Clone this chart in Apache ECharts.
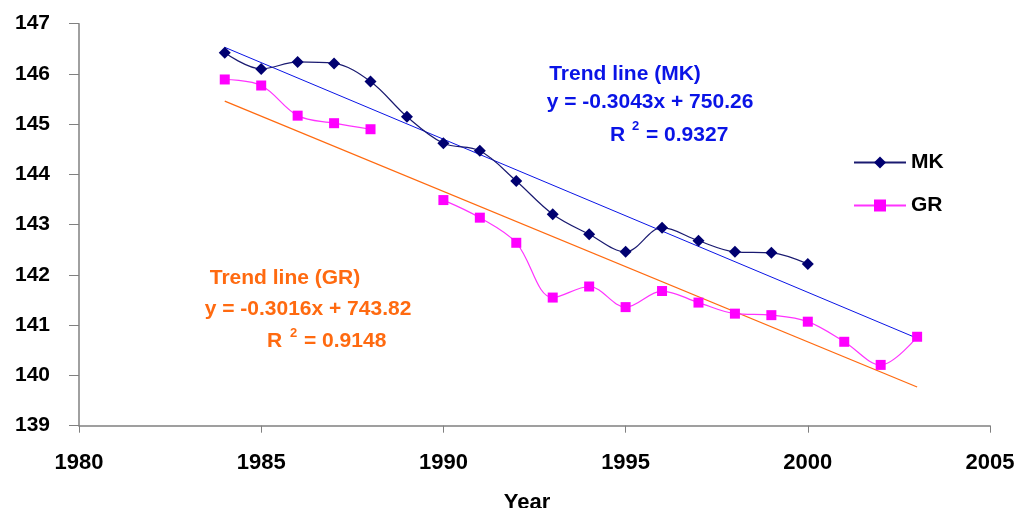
<!DOCTYPE html>
<html>
<head>
<meta charset="utf-8">
<script src="https://cdn.jsdelivr.net/npm/echarts@6/dist/echarts.min.js"></script>
<style>html,body{margin:0;padding:0;background:#fff;overflow:hidden;}#c{width:1016px;height:508px;}</style>
</head>
<body>
<div id="c"></div>
<script>
var years = [1984,1985,1986,1987,1988,1989,1990,1991,1992,1993,1994,1995,1996,1997,1998,1999,2000,2001,2002,2003];
var mk = [146.42,146.10,146.24,146.21,145.85,145.15,144.62,144.47,143.87,143.21,142.81,142.46,142.94,142.68,142.46,142.44,142.22,null,null,null];
var gr = [145.89,145.77,145.17,145.02,144.90,null,143.49,143.14,142.64,141.55,141.77,141.36,141.68,141.45,141.23,141.20,141.07,140.67,140.21,140.77];
var trendMK = [[1984,146.53],[2003,140.74]];
var trendGR = [[1984,145.46],[2003,139.77]];
var xTicks = [1980,1985,1990,1995,2000,2005];
var yTicks = [139,140,141,142,143,144,145,146,147];

function pairs(xs, ys){ var out=[]; for(var i=0;i<xs.length;i++){ out.push([xs[i], ys[i]]); } return out; }

var FONT = 'Liberation Sans, Arial, sans-serif';
var chart = echarts.init(document.getElementById('c'), null, {renderer:'canvas'});
var blue = '#0A14E6', orange = '#FF6A10';
function txt(x,y,s,color,size,align){ return {type:'text', x:x, y:y, style:{text:s, fill:color, font:'bold '+(size||21)+'px '+FONT, textAlign:align||'left', textVerticalAlign:'middle'}}; }
chart.setOption({
  animation:false,
  backgroundColor:'#fff',
  grid:{left:79, right:26, top:23.7, bottom:82.3, containLabel:false, outerBoundsMode:'none'},
  xAxis:{type:'value', min:xTicks[0], max:xTicks[xTicks.length-1], interval:5,
    axisLine:{lineStyle:{color:'#808080', width:1.5}},
    axisTick:{show:true, length:7, lineStyle:{color:'#808080'}},
    axisLabel:{fontFamily:FONT, fontWeight:'bold', fontSize:22, color:'#000', margin:26,
      formatter:function(v){ return String(v); }},
    splitLine:{show:false}},
  yAxis:{type:'value', min:yTicks[0], max:yTicks[yTicks.length-1], interval:1,
    axisLine:{show:true, lineStyle:{color:'#808080', width:1.5}},
    axisTick:{show:true, length:10, lineStyle:{color:'#808080'}},
    axisLabel:{fontFamily:FONT, fontWeight:'bold', fontSize:21, color:'#000', margin:29},
    splitLine:{show:false}},
  legend:{data:['MK','GR'], orient:'vertical', left:848, top:147, itemWidth:52, itemHeight:15, itemGap:22,
    textStyle:{fontFamily:FONT, fontWeight:'bold', fontSize:21, color:'#000', padding:[0,0,0,0]}},
  series:[
    {name:'TrendMK', type:'line', data:trendMK, symbol:'none', lineStyle:{color:blue, width:1}, silent:true, z:1},
    {name:'TrendGR', type:'line', data:trendGR, symbol:'none', lineStyle:{color:orange, width:1.2}, silent:true, z:1},
    {name:'MK', type:'line', data:pairs(years, mk), smooth:0.35, connectNulls:false,
      symbol:'diamond', symbolSize:12, itemStyle:{color:'#000070'}, lineStyle:{color:'#1a1a70', width:1.2}, z:3},
    {name:'GR', type:'line', data:pairs(years, gr), smooth:0.35, connectNulls:false,
      symbol:'rect', symbolSize:10, itemStyle:{color:'#FF00FF'}, lineStyle:{color:'#FF33FF', width:1.2}, z:3}
  ],
  graphic:[
    txt(527,503,'Year','#000',22,'center'),
    txt(625,74,'Trend line (MK)',blue,21,'center'),
    txt(650,102,'y = -0.3043x + 750.26',blue,21,'center'),
    txt(610,135,'R',blue,21,'left'),
    txt(632,126,'2',blue,13,'left'),
    txt(646,135,'= 0.9327',blue,21,'left'),
    txt(285,278,'Trend line (GR)',orange,21,'center'),
    txt(308,309,'y = -0.3016x + 743.82',orange,21,'center'),
    txt(267,341,'R',orange,21,'left'),
    txt(290,333,'2',orange,13,'left'),
    txt(304,341,'= 0.9148',orange,21,'left')
  ]
});
</script>
</body>
</html>
